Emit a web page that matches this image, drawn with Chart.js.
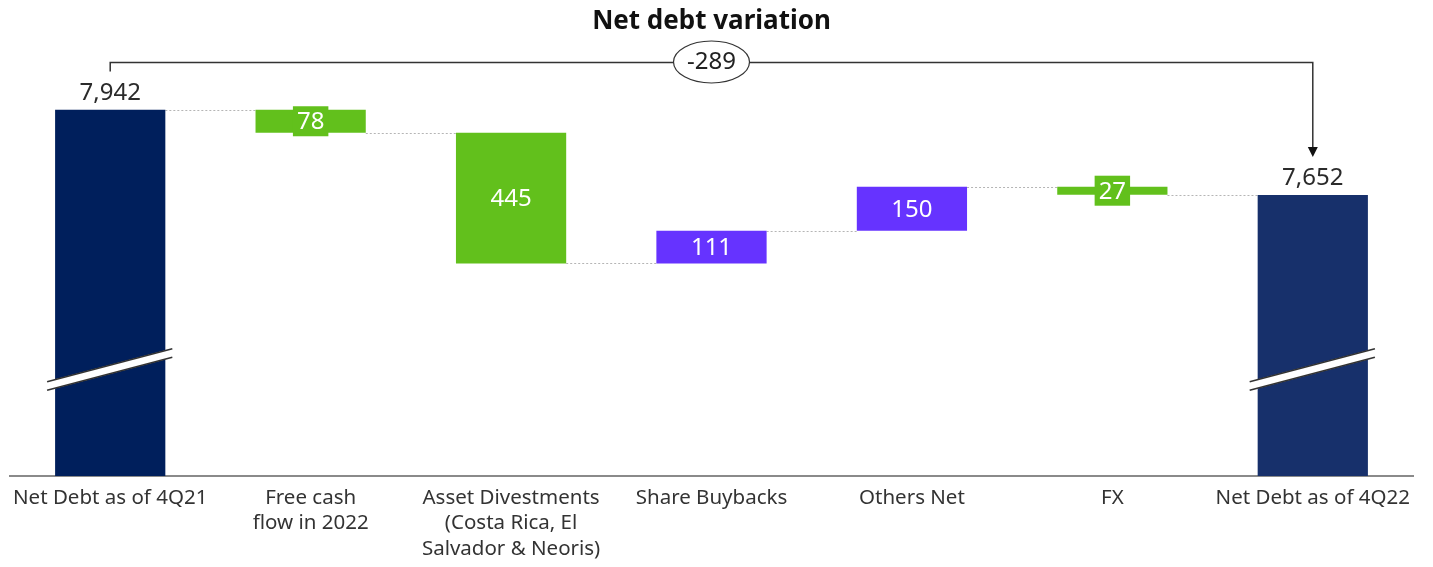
<!DOCTYPE html>
<html>
<head>
<meta charset="utf-8">
<script src="https://cdn.jsdelivr.net/npm/chart.js@4"></script>
<style>
  html, body { margin: 0; padding: 0; background: #fff; }
  #wrap { width: 1433px; height: 567px; }
</style>
</head>
<body>
<div id="wrap"><canvas id="bridge_chart"></canvas></div>
<script>
      // net debt bridge, millions
      const categories = [
        ['Net Debt as of 4Q21'],
        ['Free cash', 'flow in 2022'],
        ['Asset Divestments', '(Costa Rica, El', 'Salvador & Neoris)'],
        ['Share Buybacks'],
        ['Others Net'],
        ['FX'],
        ['Net Debt as of 4Q22']
      ];
      const startDebt = 7942;
      const endDebt = 7652;
      const movements = [-78, -445, 111, 150, -27];
      const netVariation = -289;

      // axis is broken, so the totals start from this floor
      const axisFloor = 6695;
      const axisTop = 8146;

      const navyStart = '#001f5c';
      const navyEnd = '#17306b';
      const green = '#62c01c';
      const purple = '#6633ff';

      // running level after each step
      const levels = [startDebt];
      movements.forEach(m => levels.push(levels[levels.length - 1] + m));

      const barData = [[axisFloor, startDebt]];
      const barColors = [navyStart];
      movements.forEach((m, i) => {
        barData.push([levels[i + 1], levels[i]]);
        barColors.push(m < 0 ? green : purple);
      });
      barData.push([axisFloor, endDebt]);
      barColors.push(navyEnd);

      const barLabels = [startDebt].concat(movements.map(Math.abs), [endDebt]);

      const FONT = '"Noto Sans", "Open Sans", sans-serif';

      const bridgeDecor = {
        id: 'bridgeDecor',
        beforeDatasetsDraw(chart) {
          const ctx = chart.ctx;
          const bars = chart.getDatasetMeta(0).data;
          const yScale = chart.scales.y;
          // dotted connectors between the steps
          ctx.save();
          ctx.strokeStyle = '#b5b5b5';
          ctx.lineWidth = 1;
          ctx.setLineDash([2, 2]);
          for (let i = 0; i < bars.length - 1; i++) {
            const y = Math.round(yScale.getPixelForValue(levels[i])) + 0.5;
            ctx.beginPath();
            ctx.moveTo(bars[i].x + bars[i].width / 2, y);
            ctx.lineTo(bars[i + 1].x - bars[i + 1].width / 2, y);
            ctx.stroke();
          }
          ctx.restore();
        },
        afterDatasetsDraw(chart) {
          const ctx = chart.ctx;
          const bars = chart.getDatasetMeta(0).data;
          ctx.save();

          // break marks on the two total bars
          [0, bars.length - 1].forEach(i => {
            const b = bars[i];
            const x1 = b.x - b.width / 2 - 8;
            const x2 = b.x + b.width / 2 + 7;
            const yc = b.base - 107;
            const y1 = yc + 17, y2 = yc - 16;
            ctx.lineCap = 'butt';
            ctx.strokeStyle = '#ffffff';
            ctx.lineWidth = 9;
            ctx.beginPath(); ctx.moveTo(x1, y1); ctx.lineTo(x2, y2); ctx.stroke();
            ctx.strokeStyle = '#333333';
            ctx.lineWidth = 1.6;
            [-4.3, 4.3].forEach(off => {
              ctx.beginPath(); ctx.moveTo(x1, y1 + off); ctx.lineTo(x2, y2 + off); ctx.stroke();
            });
          });

          // value labels
          ctx.textAlign = 'center';
          ctx.textBaseline = 'middle';
          ctx.font = '24px ' + FONT;
          bars.forEach((b, i) => {
            const top = Math.min(b.y, b.base);
            const bottom = Math.max(b.y, b.base);
            const txt = barLabels[i].toLocaleString('en-US');
            if (i === 0 || i === bars.length - 1) {
              ctx.fillStyle = '#2b2b2b';
              ctx.fillText(txt, b.x, top - 17);
              return;
            }
            const mid = (top + bottom) / 2;
            if (bottom - top < 28) {
              const w = ctx.measureText(txt).width + 8;
              ctx.fillStyle = barColors[i];
              ctx.fillRect(b.x - w / 2, mid - 15, w, 30);
            }
            ctx.fillStyle = '#ffffff';
            ctx.fillText(txt, b.x, mid + 1);
          });

          // bracket with the total variation
          const xl = bars[0].x;
          const xr = bars[bars.length - 1].x;
          const yb = 62.5;
          const tipY = Math.min(bars[bars.length - 1].y, bars[bars.length - 1].base) - 38;
          ctx.strokeStyle = '#333333';
          ctx.lineWidth = 1.5;
          ctx.beginPath();
          ctx.moveTo(xl, yb + 9);
          ctx.lineTo(xl, yb);
          ctx.lineTo(xr, yb);
          ctx.lineTo(xr, tipY - 8);
          ctx.stroke();
          ctx.fillStyle = '#111111';
          ctx.beginPath();
          ctx.moveTo(xr - 5, tipY - 10);
          ctx.lineTo(xr + 5, tipY - 10);
          ctx.lineTo(xr, tipY);
          ctx.closePath();
          ctx.fill();

          const xm = (xl + xr) / 2;
          ctx.fillStyle = '#ffffff';
          ctx.lineWidth = 1.2;
          ctx.beginPath();
          ctx.ellipse(xm, yb - 0.5, 38, 21, 0, 0, Math.PI * 2);
          ctx.fill();
          ctx.stroke();
          ctx.fillStyle = '#222222';
          ctx.font = '24px ' + FONT;
          ctx.fillText(netVariation.toLocaleString('en-US'), xm, yb);

          ctx.restore();
        }
      };

      const ctx1 = document.getElementById('bridge_chart').getContext('2d');
      const chart1 = new Chart(ctx1, {
        type: 'bar',
        data: {
          labels: categories,
          datasets: [{
            data: barData,
            backgroundColor: barColors,
            borderWidth: 0,
            barPercentage: 0.55,
            categoryPercentage: 1.0
          }]
        },
        options: {
          responsive: true,
          maintainAspectRatio: false,
          animation: false,
          layout: { padding: { left: 10, right: 20, top: 0, bottom: 0 } },
          plugins: {
            legend: { display: false },
            tooltip: { enabled: false },
            title: {
              display: true,
              text: 'Net debt variation',
              color: '#111111',
              font: { family: FONT, size: 26, weight: 'bold', lineHeight: 1.15 },
              padding: { top: 7, bottom: 13 }
            }
          },
          scales: {
            x: {
              grid: { display: false, drawTicks: false },
              border: { display: true, color: '#8a8a8a', width: 2 },
              ticks: {
                color: '#333333',
                padding: 9,
                maxRotation: 0,
                autoSkip: false,
                font: { family: FONT, size: 20.5, lineHeight: 1.245 }
              },
              afterFit(scale) { scale.height = 91; }
            },
            y: {
              display: false,
              min: axisFloor,
              max: axisTop
            }
          }
        },
        plugins: [bridgeDecor]
      });
</script>
</body>
</html>
